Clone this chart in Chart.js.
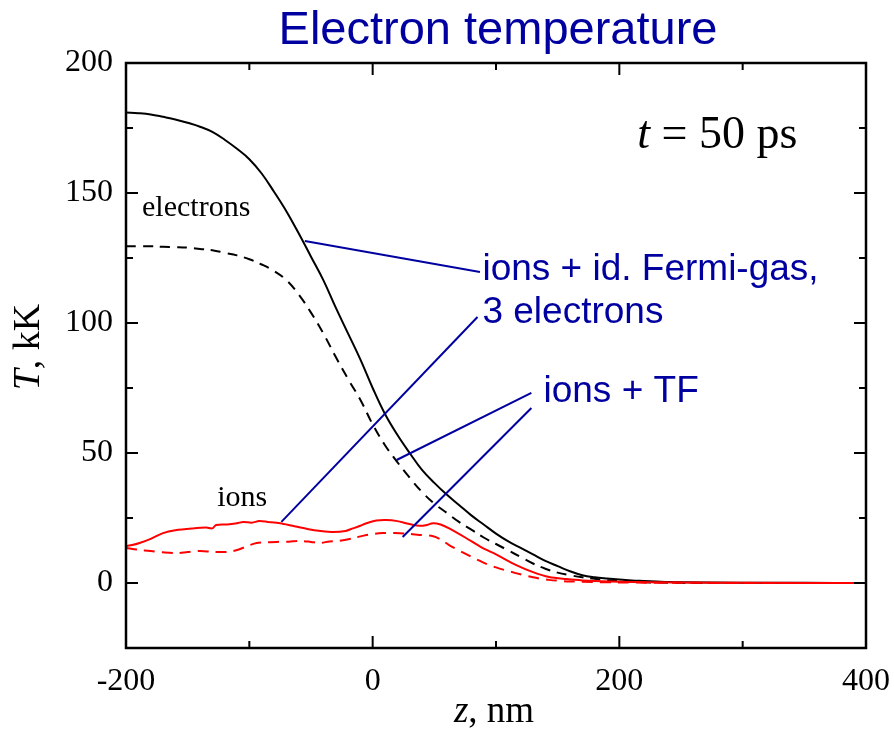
<!DOCTYPE html>
<html>
<head>
<meta charset="utf-8">
<script src="https://cdn.jsdelivr.net/npm/chart.js@4.4.1/dist/chart.umd.min.js"></script>
<style>
  html, body { margin: 0; padding: 0; background: #fff; }
  #wrap { width: 894px; height: 733px; }
</style>
</head>
<body>
<div id="wrap"><canvas id="tempChart"></canvas></div>
<script>
// z grid (nm) for the electron curves
const zElectrons = [-200, -190, -180, -170, -160, -150, -140, -130, -120, -110, -100, -90, -80, -70, -60, -50, -40, -30, -20, -10,
  0, 10, 20, 30, 40, 50, 60, 70, 80, 90, 100, 110, 120, 130, 140, 150, 160, 170, 180, 190, 200, 210, 220, 230, 240, 250, 300, 350, 400];
// electrons, ions + id. Fermi-gas (solid)
const teFermi = [181, 180.7, 180.2, 179.3, 178.3, 177, 175.5, 173.5, 170.5, 167, 163, 157.5, 150.5, 143, 134.5, 125.5, 116.5, 106, 96, 86,
  75, 65, 57, 50, 43.5, 38.5, 34, 30, 26, 22.5, 19, 16, 13.5, 11, 8.5, 6.5, 4.5, 3, 2.2, 1.7, 1.3, 1, 0.8, 0.6, 0.4, 0.3, 0.1, 0.05, 0];
// electrons, ions + TF (dashed)
const teTF = [129.5, 129.5, 129.5, 129.3, 129.2, 129, 128.5, 128, 127, 126, 124.5, 122.5, 120, 116.5, 111, 104, 96, 87, 78.5, 70.5,
  61, 53, 46.5, 40.5, 35, 30.5, 27, 23.5, 20.5, 17.5, 15, 12.5, 10, 7.5, 5.5, 4, 3, 2.2, 1.6, 1.1, 0.8, 0.5, 0.3, 0.2, 0.1, 0.05, 0, 0, 0];

// ions, id. Fermi-gas (red solid)
const zIonsFermi = [-200, -195, -189, -180, -170, -160, -146, -135, -130, -127, -118, -110, -105, -98, -92, -85, -75, -65, -53, -42,
  -32, -22, -16, -10, -5, 3, 11, 20, 27, 33, 38, 43, 49, 55, 62, 75, 89, 100, 116, 130, 143, 157, 170, 200, 250, 300, 400];
const tiFermi = [14.2, 14.6, 15.4, 17, 19.2, 20.3, 21, 21.3, 21, 22.3, 22.5, 23, 23.5, 23.2, 23.8, 23.5, 23, 22, 20.8, 20,
  19.6, 20, 21, 22, 23, 24, 24.2, 23.8, 23, 22.3, 22, 22.2, 23, 22.5, 21, 17.5, 13.5, 11, 7, 4.2, 2.3, 1.5, 1, 0.5, 0.2, 0.1, 0];
// ions, TF (red dashed)
const zIonsTF = [-200, -190, -180, -170, -159, -150, -140, -130, -121, -114, -108, -100, -94, -86, -78, -68, -59, -50, -43, -35,
  -27, -15, -5, 8, 18, 27, 38, 49, 55, 62, 75, 89, 100, 116, 130, 143, 160, 200, 250, 300, 400];
const tiTF = [13.5, 12.8, 12.3, 11.8, 11.5, 11.9, 12.3, 12, 11.9, 12.2, 13, 14.5, 15.4, 15.6, 15.8, 15.9, 16.2, 15.8, 15.4, 16,
  16.2, 17.3, 18.5, 19.2, 19.2, 19, 18.5, 18, 16.8, 14.6, 11.3, 8, 6, 3.8, 2.2, 1.2, 0.6, 0.2, 0.1, 0, 0];

// axis ticks
const xTickStep = 100;
const xLabelEvery = 200;
const yTickStep = 25;
const yLabelEvery = 50;

// leader lines: [z1, T1, z2, T2]
const leaders = [
  [-55, 131.5, 87, 119.6],
  [-74, 23.5, 85, 102.3],
  [19.4, 47.3, 128.7, 73.1],
  [24.3, 17.7, 128.7, 67.3]
];

// text labels: [text, z, T, kind]
const labels = [
  ['electrons', -187, 144, 'serif'],
  ['ions', -126, 32.7, 'serif'],
  ['ions + id. Fermi-gas,', 89, 120.6, 'blue'],
  ['3 electrons', 89, 104, 'blue'],
  ['ions + TF', 138.5, 73.5, 'blue']
];

const BLUE = '#0000a0';
const SERIF = '"Liberation Serif", "Times New Roman", serif';
const SANS = '"Liberation Sans", Arial, sans-serif';

function pts(xs, ys) {
  return xs.map((x, i) => ({ x: x, y: ys[i] }));
}

const datasets = [
  { data: pts(zElectrons, teFermi), borderColor: '#000', borderWidth: 2, tension: 0.4, order: 5 },
  { data: pts(zElectrons, teTF), borderColor: '#000', borderWidth: 2, borderDash: [10, 7], tension: 0.4, order: 6 },
  { data: pts(zIonsFermi, tiFermi), borderColor: '#ff0000', borderWidth: 2, tension: 0.3, order: 3 },
  { data: pts(zIonsTF, tiTF), borderColor: '#ff0000', borderWidth: 2, borderDash: [11, 7], tension: 0.3, order: 4 }
];
leaders.forEach(l => {
  datasets.push({ data: [{ x: l[0], y: l[1] }, { x: l[2], y: l[3] }], borderColor: BLUE, borderWidth: 2, tension: 0, order: 1 });
});

// frame, inward ticks, titles and text labels
const decor = {
  id: 'decor',
  afterDraw(chart) {
    const ctx = chart.ctx;
    const a = chart.chartArea;
    const xs = chart.scales.x, ys = chart.scales.y;
    ctx.save();
    ctx.strokeStyle = '#000';
    ctx.lineWidth = 2;
    xs.ticks.forEach(t => {
      const px = xs.getPixelForValue(t.value);
      const len = t.value % xLabelEvery === 0 ? 12 : 7;
      ctx.beginPath();
      ctx.moveTo(px, a.bottom); ctx.lineTo(px, a.bottom - len);
      ctx.moveTo(px, a.top); ctx.lineTo(px, a.top + len);
      ctx.stroke();
    });
    ys.ticks.forEach(t => {
      const py = ys.getPixelForValue(t.value);
      const len = t.value % yLabelEvery === 0 ? 12 : 7;
      ctx.beginPath();
      ctx.moveTo(a.left, py); ctx.lineTo(a.left + len, py);
      ctx.moveTo(a.right, py); ctx.lineTo(a.right - len, py);
      ctx.stroke();
    });
    ctx.lineWidth = 2.5;
    ctx.strokeRect(a.left, a.top, a.right - a.left, a.bottom - a.top);

    // chart title
    ctx.fillStyle = BLUE;
    ctx.font = '47px ' + SANS;
    ctx.textAlign = 'center';
    ctx.textBaseline = 'middle';
    ctx.fillText('Electron temperature', 498, 31);

    // x axis title: z, nm
    ctx.fillStyle = '#000';
    ctx.textAlign = 'left';
    ctx.font = 'italic 37px ' + SERIF;
    const zw = ctx.measureText('z').width;
    ctx.font = '37px ' + SERIF;
    const rw = ctx.measureText(', nm').width;
    let x0 = 494 - (zw + rw) / 2;
    ctx.font = 'italic 37px ' + SERIF;
    ctx.fillText('z', x0, 712);
    ctx.font = '37px ' + SERIF;
    ctx.fillText(', nm', x0 + zw, 712);

    // y axis title: T, kK
    ctx.save();
    ctx.translate(29, 347);
    ctx.rotate(-Math.PI / 2);
    ctx.font = 'italic 38px ' + SERIF;
    const tw = ctx.measureText('T').width;
    ctx.font = '38px ' + SERIF;
    const kw = ctx.measureText(', kK').width;
    x0 = -(tw + kw) / 2;
    ctx.font = 'italic 38px ' + SERIF;
    ctx.fillText('T', x0, 0);
    ctx.font = '38px ' + SERIF;
    ctx.fillText(', kK', x0 + tw, 0);
    ctx.restore();

    // t = 50 ps
    const tx = xs.getPixelForValue(214.6), ty = ys.getPixelForValue(172);
    ctx.font = 'italic 46px ' + SERIF;
    ctx.fillText('t', tx, ty);
    const tW = ctx.measureText('t').width;
    ctx.font = '46px ' + SERIF;
    ctx.fillText(' = 50 ps', tx + tW, ty);

    // curve labels
    labels.forEach(l => {
      const px = xs.getPixelForValue(l[1]), py = ys.getPixelForValue(l[2]);
      if (l[3] === 'blue') {
        ctx.fillStyle = BLUE;
        ctx.font = '37px ' + SANS;
      } else {
        ctx.fillStyle = '#000';
        ctx.font = '30px ' + SERIF;
      }
      ctx.fillText(l[0], px, py);
    });
    ctx.restore();
  }
};

new Chart(document.getElementById('tempChart'), {
  type: 'line',
  data: { datasets: datasets },
  options: {
    responsive: true,
    maintainAspectRatio: false,
    animation: false,
    layout: { padding: { top: 63, right: 28, left: 0, bottom: 0 } },
    elements: { point: { radius: 0 } },
    plugins: {
      legend: { display: false },
      tooltip: { enabled: false }
    },
    scales: {
      x: {
        type: 'linear',
        min: -200,
        max: 400,
        grid: { display: false, drawTicks: false },
        border: { display: false },
        afterFit: s => { s.height = 85; s.paddingLeft = 0; s.paddingRight = 0; },
        ticks: {
          stepSize: xTickStep,
          autoSkip: false,
          maxRotation: 0,
          padding: 14,
          color: '#000',
          font: { family: SERIF, size: 32 },
          callback: v => (v % xLabelEvery === 0 ? v : '')
        }
      },
      y: {
        min: -25,
        max: 200,
        grid: { display: false, drawTicks: false },
        border: { display: false },
        afterFit: s => { s.width = 126; s.paddingTop = 0; s.paddingBottom = 0; },
        ticks: {
          stepSize: yTickStep,
          autoSkip: false,
          padding: 13,
          color: '#000',
          font: { family: SERIF, size: 32 },
          callback: v => (v % yLabelEvery === 0 && v >= 0 ? v : '')
        }
      }
    }
  },
  plugins: [decor]
});
</script>
</body>
</html>
